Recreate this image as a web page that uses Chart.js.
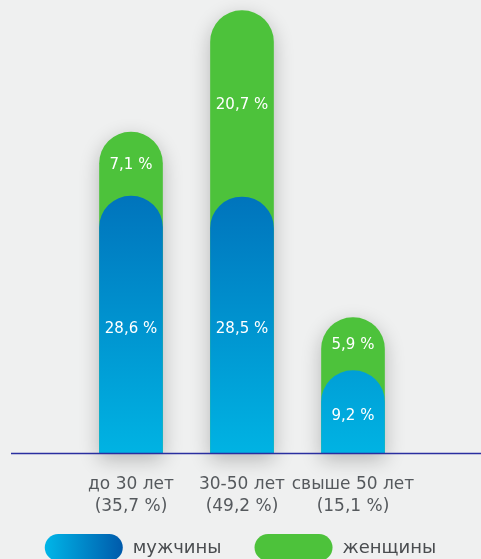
<!DOCTYPE html>
<html>
<head>
<meta charset="utf-8">
<script src="https://cdn.jsdelivr.net/npm/chart.js@4"></script>
<style>
  html, body { margin: 0; padding: 0; background: #eff0f0; }
  #wrap { width: 481px; height: 559px; }
</style>
</head>
<body>
<div id="wrap"><canvas id="c" width="481" height="559"></canvas></div>
<script>
// Age groups and their share of all staff
const categories = ['до 30 лет', '30-50 лет', 'свыше 50 лет'];
const groupShares = [35.7, 49.2, 15.1];
// Share by sex inside each age group
const men = [28.6, 28.5, 9.2];
const women = [7.1, 20.7, 5.9];
const seriesNames = ['мужчины', 'женщины'];

const FONT = "'DejaVu Sans', sans-serif";
const GREEN = '#4dc23b';
const fmt = v => v.toFixed(1).replace('.', ',') + ' %';

// Women sit on top of men: the green bar runs from 0 to the group total,
// and the blue bar with its round cap is drawn over it.
const stackTop = men.map((m, i) => +(m + women[i]).toFixed(1));

function blueFill(context) {
  const chart = context.chart;
  const y = chart.scales.y;
  if (!chart.chartArea || !y) return '#0a93d2';
  const g = chart.ctx.createLinearGradient(0, y.getPixelForValue(28.6), 0, y.getPixelForValue(0));
  g.addColorStop(0, '#0074bc');
  g.addColorStop(1, '#00b3e3');
  return g;
}

const roundTop = { topLeft: 100, topRight: 100, bottomLeft: 0, bottomRight: 0 };

const barShadow = {
  id: 'barShadow',
  beforeDatasetDraw(chart, args) {
    if (args.index !== 1) return;
    const c = chart.ctx;
    c.save();
    c.shadowColor = 'rgba(0,0,0,0.24)';
    c.shadowBlur = 20;
    c.shadowOffsetY = 6;
  },
  afterDatasetDraw(chart, args) {
    if (args.index !== 1) return;
    chart.ctx.restore();
  }
};

const baselineAndLabels = {
  id: 'baselineAndLabels',
  afterDatasetsDraw(chart) {
    const c = chart.ctx;
    const y = chart.scales.y;
    const y0 = y.getPixelForValue(0);
    c.save();
    c.strokeStyle = '#2a2fa0';
    c.lineWidth = 1.3;
    c.beginPath();
    c.moveTo(11, y0);
    c.lineTo(chart.width, y0);
    c.stroke();

    c.fillStyle = '#ffffff';
    c.font = `15px ${FONT}`;
    c.textAlign = 'center';
    c.textBaseline = 'middle';
    chart.getDatasetMeta(0).data.forEach((bar, i) => {
      const yMen = (y0 + y.getPixelForValue(men[i])) / 2 + 4;
      const yWomen = (y.getPixelForValue(men[i]) + y.getPixelForValue(stackTop[i])) / 2 + 1;
      c.fillText(fmt(men[i]), bar.x, yMen);
      c.fillText(fmt(women[i]), bar.x, yWomen);
    });
    c.restore();
  }
};

const pillLegend = {
  id: 'pillLegend',
  afterDraw(chart) {
    const c = chart.ctx;
    const names = chart.data.datasets.map(d => d.label);
    const pillW = 78, pillH = 27, textGap = 10, itemGap = 33;
    c.save();
    c.font = `18px ${FONT}`;
    const widths = names.map(t => c.measureText(t).width);
    const total = names.length * (pillW + textGap) + widths.reduce((a, b) => a + b, 0) + itemGap * (names.length - 1);
    let x = (chart.width - total) / 2;
    const top = chart.height - 25;
    const cy = top + pillH / 2;
    names.forEach((name, i) => {
      let fill = GREEN;
      if (i === 0) {
        const g = c.createLinearGradient(x, 0, x + pillW, 0);
        g.addColorStop(0, '#00b6e8');
        g.addColorStop(1, '#005aab');
        fill = g;
      }
      c.fillStyle = fill;
      c.beginPath();
      c.roundRect(x, top, pillW, pillH, pillH / 2);
      c.fill();
      x += pillW + textGap;
      c.fillStyle = '#4a4d50';
      c.textAlign = 'left';
      c.textBaseline = 'middle';
      c.fillText(name, x, cy + 1);
      x += widths[i] + itemGap;
    });
    c.restore();
  }
};

new Chart(document.getElementById('c'), {
  type: 'bar',
  data: {
    labels: categories.map((c, i) => [c, '(' + fmt(groupShares[i]) + ')']),
    datasets: [
      {
        label: seriesNames[0],
        data: men,
        backgroundColor: blueFill,
        borderRadius: roundTop,
        borderSkipped: 'start',
        barThickness: 63,
        clip: false
      },
      {
        label: seriesNames[1],
        data: stackTop,
        backgroundColor: GREEN,
        borderRadius: roundTop,
        borderSkipped: 'start',
        barThickness: 63,
        clip: false
      }
    ]
  },
  options: {
    responsive: false,
    animation: false,
    devicePixelRatio: 1,
    layout: { padding: { top: 3.5, bottom: 45.5, left: 75.5, right: 72.5 } },
    plugins: {
      legend: { display: false },
      tooltip: { enabled: false }
    },
    scales: {
      x: {
        stacked: true,
        grid: { display: false, drawTicks: false },
        border: { display: false },
        ticks: {
          color: '#55595d',
          font: { family: FONT, size: 17, lineHeight: 1.3 },
          padding: 20,
          maxRotation: 0,
          autoSkip: false
        },
        afterFit(scale) { scale.height = 60; }
      },
      y: {
        stacked: false,
        display: false,
        min: 0,
        max: 50
      }
    }
  },
  plugins: [barShadow, baselineAndLabels, pillLegend]
});
</script>
</body>
</html>
